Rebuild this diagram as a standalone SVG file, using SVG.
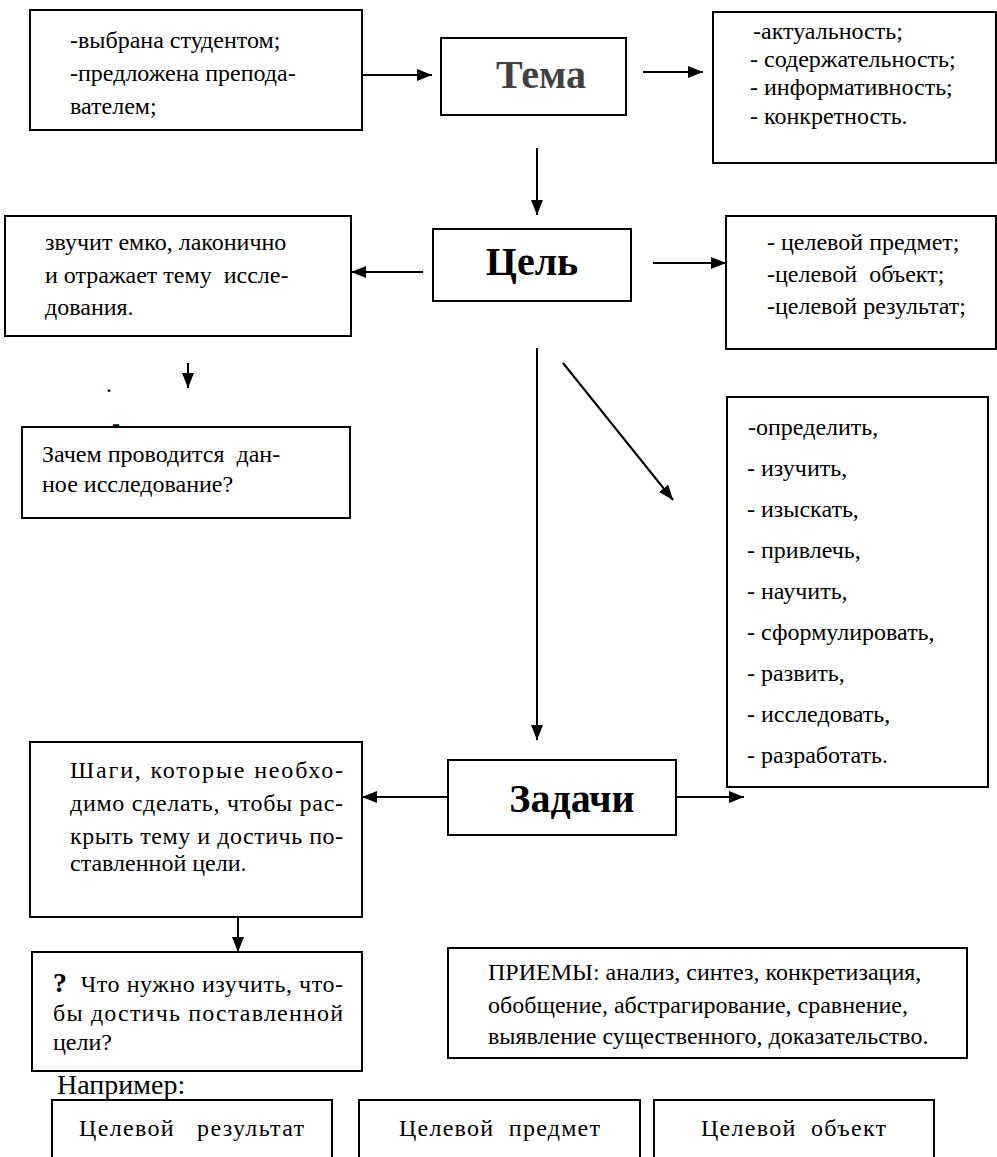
<svg xmlns="http://www.w3.org/2000/svg" width="997" height="1157" viewBox="0 0 997 1157">
<style>
.box{fill:#fff;stroke:#000;stroke-width:2}
.t{font-family:"Liberation Serif","Tinos","DejaVu Serif",serif;font-size:24px;font-weight:400;font-style:normal;fill:#000}
.big{font-family:"Liberation Serif","Tinos","DejaVu Serif",serif;font-size:40px;font-weight:bold;fill:#000}
.con{stroke:#000;stroke-width:2;fill:none;marker-end:url(#ah)}
</style>
<defs>
<marker id="ah" markerWidth="15" markerHeight="12" refX="15" refY="6" orient="auto" markerUnits="userSpaceOnUse"><path d="M0,0 L15,6 L0,12 z" fill="#000"/></marker>
</defs>
<rect width="997" height="1157" fill="#fff"/>

<g id="selection">
<rect class="box" x="30" y="10" width="332" height="120"/>
<text class="t" x="70" y="48">-выбрана студентом;</text>
<text class="t" x="70" y="81">-предложена препода-</text>
<text class="t" x="70" y="114">вателем;</text>
</g>

<g id="tema">
<rect class="box" x="441" y="38" width="185" height="77"/>
<text class="big" x="541" y="88" text-anchor="middle" style="fill:#404040">Тема</text>
</g>

<g id="tema-criteria">
<rect class="box" x="713" y="12" width="283" height="151"/>
<text class="t" x="753" y="39">-актуальность;</text>
<text class="t" x="750" y="67">- содержательность;</text>
<text class="t" x="750" y="95">- информативность;</text>
<text class="t" x="750" y="124">- конкретность.</text>
</g>

<g id="cel">
<rect class="box" x="433" y="229" width="198" height="72"/>
<text class="big" x="532" y="275" text-anchor="middle">Цель</text>
</g>

<g id="cel-desc">
<rect class="box" x="5" y="216" width="346" height="120"/>
<text class="t" x="45" y="250">звучит емко, лаконично</text>
<text class="t" x="45" y="283" xml:space="preserve">и отражает тему  иссле-</text>
<text class="t" x="45" y="315">дования.</text>
</g>

<g id="cel-types">
<rect class="box" x="726" y="216" width="270" height="133"/>
<text class="t" x="767" y="250">- целевой предмет;</text>
<text class="t" x="767" y="282" xml:space="preserve">-целевой  объект;</text>
<text class="t" x="767" y="314">-целевой результат;</text>
</g>

<g id="marks">
<text class="t" x="106" y="392">.</text>
<text class="t" x="112" y="431">-</text>
</g>

<g id="why">
<rect class="box" x="22" y="427" width="328" height="91"/>
<text class="t" x="42" y="462" xml:space="preserve">Зачем проводится  дан-</text>
<text class="t" x="42" y="492">ное исследование?</text>
</g>

<g id="verbs">
<rect class="box" x="727" y="397" width="261" height="390"/>
<text class="t" x="748" y="435">-определить,</text>
<text class="t" x="747" y="476">- изучить,</text>
<text class="t" x="747" y="517">- изыскать,</text>
<text class="t" x="747" y="558">- привлечь,</text>
<text class="t" x="747" y="599">- научить,</text>
<text class="t" x="747" y="640">- сформулировать,</text>
<text class="t" x="747" y="681">- развить,</text>
<text class="t" x="747" y="722">- исследовать,</text>
<text class="t" x="747" y="763">- разработать.</text>
</g>

<g id="zadachi">
<rect class="box" x="448" y="760" width="228" height="75"/>
<text class="big" x="572" y="812" text-anchor="middle">Задачи</text>
</g>

<g id="steps">
<rect class="box" x="30" y="742" width="332" height="175"/>
<text class="t" x="70" y="778" textLength="273" lengthAdjust="spacing">Шаги, которые необхо-</text>
<text class="t" x="70" y="811" textLength="273" lengthAdjust="spacing">димо сделать, чтобы рас-</text>
<text class="t" x="70" y="844" textLength="273" lengthAdjust="spacing">крыть тему и достичь по-</text>
<text class="t" x="70" y="871">ставленной цели.</text>
</g>

<g id="question">
<rect class="box" x="32" y="952" width="330" height="119"/>
<text class="t" x="53" y="992" textLength="290" lengthAdjust="spacing" xml:space="preserve"><tspan font-weight="bold" font-size="28">?</tspan>  Что нужно изучить, что-</text>
<text class="t" x="53" y="1021" textLength="290" lengthAdjust="spacing">бы достичь поставленной</text>
<text class="t" x="53" y="1050">цели?</text>
</g>

<g id="methods">
<rect class="box" x="448" y="948" width="519" height="110"/>
<text class="t" x="488" y="980">ПРИЕМЫ: анализ, синтез, конкретизация,</text>
<text class="t" x="488" y="1013">обобщение, абстрагирование, сравнение,</text>
<text class="t" x="488" y="1044">выявление существенного, доказательство.</text>
</g>

<g id="example-label">
<text class="t" x="57" y="1094" style="font-size:28px">Например:</text>
</g>

<g id="ex-result">
<rect class="box" x="52" y="1100" width="280" height="80"/>
<text class="t" x="79" y="1136" textLength="225" lengthAdjust="spacing" xml:space="preserve">Целевой   результат</text>
</g>
<g id="ex-subject">
<rect class="box" x="359" y="1100" width="281" height="80"/>
<text class="t" x="399" y="1136" textLength="201" lengthAdjust="spacing" xml:space="preserve">Целевой  предмет</text>
</g>
<g id="ex-object">
<rect class="box" x="654" y="1100" width="280" height="80"/>
<text class="t" x="701" y="1136" textLength="185" lengthAdjust="spacing" xml:space="preserve">Целевой  объект</text>
</g>

<g id="connectors">
<path class="con" d="M362,75 H432"/>
<path class="con" d="M643,72 H703"/>
<path class="con" d="M537,148 V215"/>
<path class="con" d="M423,272 H351"/>
<path class="con" d="M653,263 H726"/>
<path class="con" d="M188,363 V388"/>
<path class="con" d="M537,348 V740"/>
<path class="con" d="M563,363 L673,500"/>
<path class="con" d="M448,797 H362"/>
<path class="con" d="M676,797 H744"/>
<path class="con" d="M238,917 V952"/>
</g>
</svg>
